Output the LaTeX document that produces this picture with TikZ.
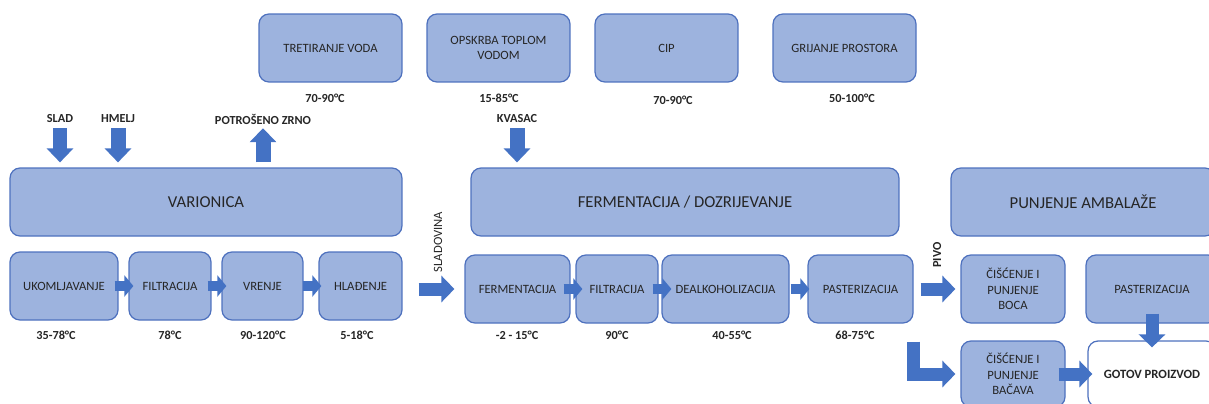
\documentclass[tikz,border=0pt]{standalone}
\usepackage{fontspec}
\setmainfont{Carlito}
\usetikzlibrary{arrows.meta,positioning}

\definecolor{boxfill}{RGB}{157,179,222}
\definecolor{boxline}{RGB}{78,113,190}
\definecolor{arrowblue}{RGB}{68,114,196}
\definecolor{txt}{RGB}{38,38,38}

\begin{document}
\begin{tikzpicture}[
  x=0.02cm, y=-0.02cm,
  font=\fontsize{7.2}{8.8}\selectfont, text=txt,
  box/.style={draw=boxline, line width=0.7pt, fill=boxfill, rounded corners=0.2cm, align=center, minimum height=1.36cm, inner sep=1pt},
  stage/.style={box, font=\fontsize{9.5}{11}\selectfont},
  temp/.style={font=\bfseries\fontsize{7}{8}\selectfont, inner sep=1pt},
  tag/.style={font=\bfseries\fontsize{7}{8}\selectfont, inner sep=1pt},
  flow/.style={arrowblue, line width=0.2cm, -{Triangle[width=0.42cm, length=0.18cm]}},
  drop/.style={arrowblue, line width=0.3cm, -{Triangle[width=0.52cm, length=0.28cm]}},
  bigflow/.style={arrowblue, line width=0.26cm, line join=miter, -{Triangle[width=0.52cm, length=0.26cm]}}
]
\clip (0,0) rectangle (1209,403);

% utilities
\node[box, minimum width=2.86cm] (voda) at (330.5,48) {TRETIRANJE VODA};
\node[box, minimum width=2.86cm] (topla) at (498.5,48) {OPSKRBA TOPLOM\\VODOM};
\node[box, minimum width=2.86cm] (cip) at (666.5,48) {CIP};
\node[box, minimum width=2.86cm] (grijanje) at (844.5,48) {GRIJANJE PROSTORA};
\node[temp] (tvoda) at (325,98) {70-90°C};
\node[temp] (ttopla) at (499,98) {15-85°C};
\node[temp] (tcip) at (673,100) {70-90°C};
\node[temp] (tgrijanje) at (852,98) {50-100°C};

% inputs
\node[tag] (slad) at (60,119) {SLAD};
\node[tag] (hmelj) at (118,119) {HMELJ};
\node[tag] (zrno) at (263,119) {POTROŠENO ZRNO};
\node[tag] (kvasac) at (517,119) {KVASAC};

% stages
\node[stage, minimum width=7.84cm] (varionica) at (206,202) {VARIONICA};
\node[stage, minimum width=8.56cm] (fermdoz) at (685,202) {FERMENTACIJA / DOZRIJEVANJE};
\node[stage, minimum width=5.28cm] (ambalaza) at (1083,202) {PUNJENJE AMBALAŽE};

% brewhouse
\node[box, minimum width=2.16cm] (ukom) at (64,286) {UKOMLJAVANJE};
\node[box, minimum width=1.64cm] (filt) at (170,286) {FILTRACIJA};
\node[box, minimum width=1.62cm] (vrenje) at (262.5,286) {VRENJE};
\node[box, minimum width=1.66cm] (hlad) at (360.5,286) {HLAĐENJE};
\node[temp] (tukom) at (56,335) {35-78°C};
\node[temp] (tfilt) at (170,335) {78°C};
\node[temp] (tvrenje) at (263,335) {90-120°C};
\node[temp] (thlad) at (357,335) {5-18°C};

% cellar
\node[box, minimum width=2.10cm] (ferm) at (517.5,289) {FERMENTACIJA};
\node[box, minimum width=1.64cm] (filt2) at (617,289) {FILTRACIJA};
\node[box, minimum width=2.54cm] (dealk) at (725.5,289) {DEALKOHOLIZACIJA};
\node[box, minimum width=2.10cm] (past) at (860.5,289) {PASTERIZACIJA};
\node[temp] (tferm) at (517,335) {-2 - 15°C};
\node[temp] (tfilt2) at (617,335) {90°C};
\node[temp] (tdealk) at (732,335) {40-55°C};
\node[temp] (tpast) at (855,335) {68-75°C};

% packaging
\node[box, minimum width=2.08cm] (boca) at (1013,289) {ČIŠĆENJE I\\PUNJENJE\\BOCA};
\node[box, minimum width=2.64cm] (past2) at (1152,289) {PASTERIZACIJA};
\node[box, minimum width=2.08cm, minimum height=1.32cm] (bacava) at (1013,374) {ČIŠĆENJE I\\PUNJENJE\\BAČAVA};
\node[box, fill=white, minimum width=2.56cm, minimum height=1.32cm, font=\bfseries\fontsize{7.2}{8.8}\selectfont] (gotov) at (1152,374) {GOTOV PROIZVOD};

\node[rotate=90, inner sep=1pt] (sladovina) at (438,242) {SLADOVINA};
\node[tag, rotate=90] (pivo) at (937,255) {PIVO};
\coordinate[below=0.36cm of past.south east] (lstart);

% arrows
\draw[drop, shorten <=0.06cm, shorten >=0.1cm] (slad.south) -- (slad.south |- varionica.north);
\draw[drop, shorten <=0.06cm, shorten >=0.1cm] (hmelj.south) -- (hmelj.south |- varionica.north);
\draw[drop, shorten <=0.1cm, shorten >=0.04cm] (varionica.north -| zrno.south) -- (zrno.south);
\draw[drop, shorten <=0.06cm, shorten >=0.1cm] (kvasac.south) -- (kvasac.south |- fermdoz.north);

\draw[flow, shorten <=-0.08cm, shorten >=-0.1cm] (ukom) -- (filt);
\draw[flow, shorten <=-0.08cm, shorten >=-0.1cm] (filt) -- (vrenje);
\draw[flow, shorten <=-0.02cm, shorten >=-0.06cm] (vrenje) -- (hlad);
\draw[flow, shorten <=-0.14cm, shorten >=-0.14cm] (ferm) -- (filt2);
\draw[flow, shorten <=-0.12cm, shorten >=-0.2cm] (filt2) -- (dealk);
\draw[flow, shorten <=0.02cm, shorten >=-0.04cm] (dealk) -- (past);

\draw[bigflow, shorten <=0.32cm, shorten >=0.2cm] (hlad.east |- ferm.west) -- (ferm.west);
\draw[bigflow, shorten <=0.14cm, shorten >=0.1cm] (past.east) -- (boca.west);
\draw[bigflow, shorten >=0.1cm] (lstart) |- (bacava.west);
\draw[bigflow, shorten <=-0.14cm, shorten >=-0.1cm] (bacava.east) -- (gotov.west);
\draw[bigflow, shorten <=-0.2cm, shorten >=-0.14cm] (past2.south) -- (gotov.north);

\end{tikzpicture}
\end{document}
